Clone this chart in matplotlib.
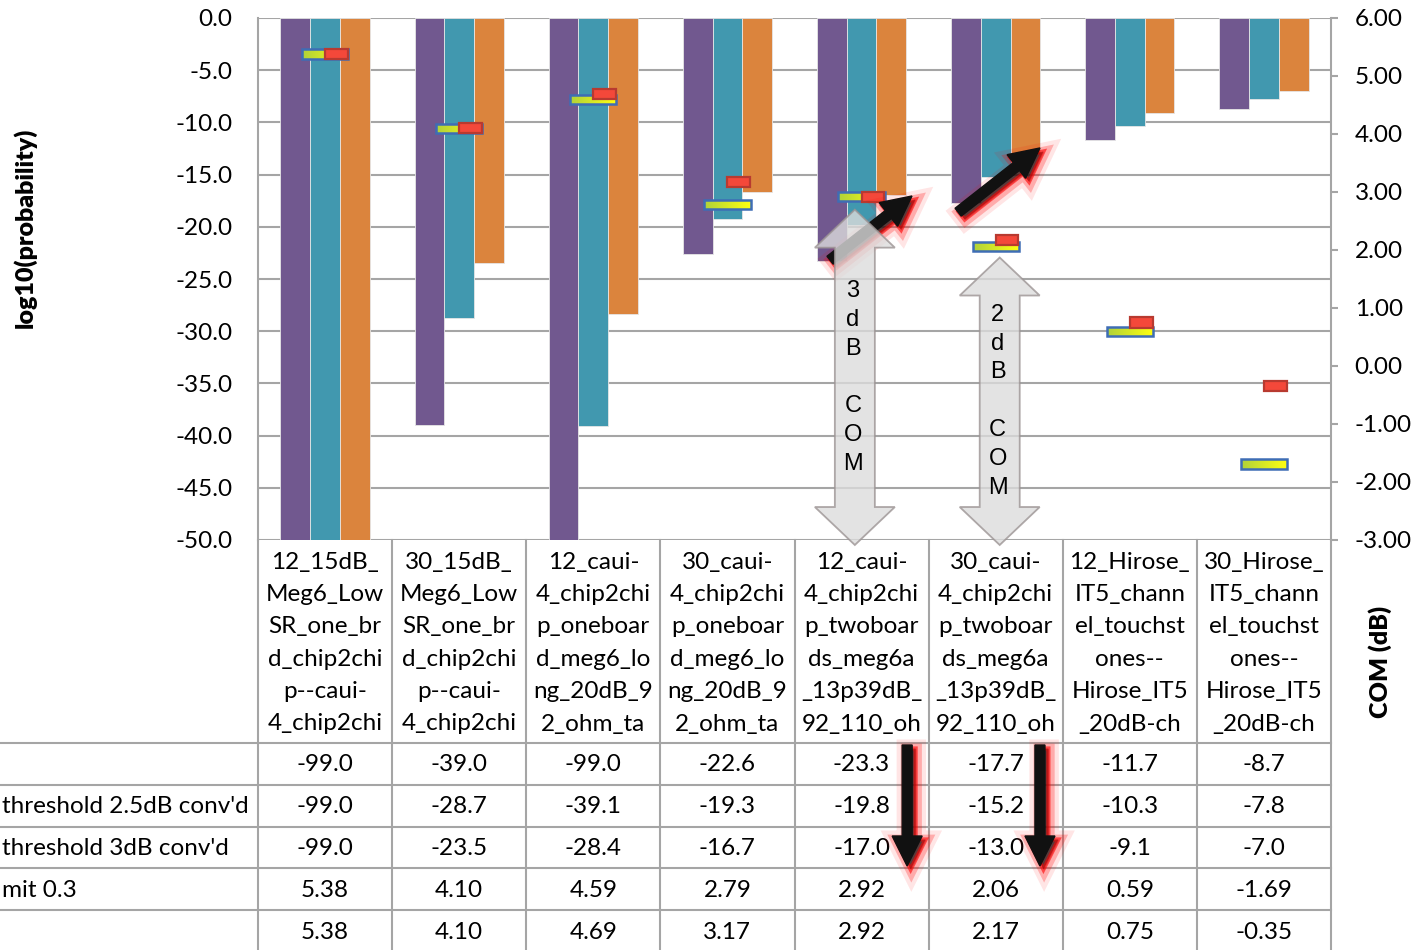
import numpy as np
import matplotlib
matplotlib.use("Agg")
import matplotlib.pyplot as plt
import matplotlib.patheffects as pe
from matplotlib.patches import Polygon
from matplotlib.colors import LinearSegmentedColormap

plt.rcParams['font.family'] = ['Lato', 'DejaVu Sans']

# category names as they appear (wrapped / cut) in the data table header
categories = [
    "12_15dB_\nMeg6_Low\nSR_one_br\nd_chip2chi\np--caui-\n4_chip2chi",
    "30_15dB_\nMeg6_Low\nSR_one_br\nd_chip2chi\np--caui-\n4_chip2chi",
    "12_caui-\n4_chip2chi\np_oneboar\nd_meg6_lo\nng_20dB_9\n2_ohm_ta",
    "30_caui-\n4_chip2chi\np_oneboar\nd_meg6_lo\nng_20dB_9\n2_ohm_ta",
    "12_caui-\n4_chip2chi\np_twoboar\nds_meg6a\n_13p39dB_\n92_110_oh",
    "30_caui-\n4_chip2chi\np_twoboar\nds_meg6a\n_13p39dB_\n92_110_oh",
    "12_Hirose_\nIT5_chann\nel_touchst\nones--\nHirose_IT5\n_20dB-ch",
    "30_Hirose_\nIT5_chann\nel_touchst\nones--\nHirose_IT5\n_20dB-ch",
]
row_labels = ["", "threshold 2.5dB conv'd", "threshold 3dB conv'd", "mit 0.3", ""]

# log10(probability), left axis
prob_base = [-99.0, -39.0, -99.0, -22.6, -23.3, -17.7, -11.7, -8.7]
prob_25 = [-99.0, -28.7, -39.1, -19.3, -19.8, -15.2, -10.3, -7.8]
prob_3 = [-99.0, -23.5, -28.4, -16.7, -17.0, -13.0, -9.1, -7.0]
# COM (dB), right axis
com_mit = [5.38, 4.10, 4.59, 2.79, 2.92, 2.06, 0.59, -1.69]
com_other = [5.38, 4.10, 4.69, 3.17, 2.92, 2.17, 0.75, -0.35]

W, H = 1426, 950
L, R, T, B = 258, 1331, 18, 540
FS = 17.5
GRID = '#A5A5A5'

fig = plt.figure(figsize=(W / 100, H / 100), dpi=100)
ax = fig.add_axes([L / W, 1 - B / H, (R - L) / W, (B - T) / H])

n = len(categories)
x = np.arange(n)
bw = 0.222
series = [(prob_base, '#71588F'), (prob_25, '#4198AF'), (prob_3, '#DB843D')]
for k, (vals, col) in enumerate(series):
    ax.bar(x + (k - 1) * bw, vals, bw, color=col, edgecolor='#E6E6E6',
           linewidth=0.6, zorder=2)

ax.set_xlim(-0.5, n - 0.5)
ax.set_ylim(-50, 0)
yt = np.arange(-50, 0.1, 5)
ax.set_yticks(yt)
ax.set_yticklabels([f"{v:.1f}" for v in yt])
ax.tick_params(axis='y', length=0, pad=18.5, labelsize=FS)
ax.tick_params(axis='x', bottom=False, labelbottom=False)
ax.yaxis.grid(True, color=GRID, linewidth=1.5)
ax.set_axisbelow(True)
for s in ['top', 'bottom', 'right']:
    ax.spines[s].set_visible(False)
ax.spines['left'].set_color(GRID)
ax.spines['left'].set_linewidth(1.5)

ax2 = ax.twinx()
ax2.set_ylim(-3, 6)
yt2 = np.arange(-3, 6.1, 1)
ax2.set_yticks(yt2)
ax2.set_yticklabels([f"{v:.2f}" for v in yt2])
ax2.tick_params(axis='y', length=5, width=1.5, color=GRID, pad=12, labelsize=FS)
for s in ['top', 'bottom', 'left']:
    ax2.spines[s].set_visible(False)
ax2.spines['right'].set_color(GRID)
ax2.spines['right'].set_linewidth(1.5)

# COM markers
yh = 0.16
ybars = ax2.bar(x, yh, bottom=np.array(com_mit) - yh / 2, width=0.345,
                facecolor='none', edgecolor='#3E6DB5', linewidth=1.8, zorder=5)
cmap_y = LinearSegmentedColormap.from_list('yg', ['#B0D23A', '#FFFF10'])
grad = np.linspace(0, 1, 64).reshape(1, -1)
for p in ybars:
    x0, y0 = p.get_xy()
    im = ax2.imshow(grad, extent=[x0, x0 + p.get_width(), y0, y0 + p.get_height()],
                    aspect='auto', cmap=cmap_y, zorder=4, interpolation='bilinear')
    im.set_clip_path(p)
rh = 0.175
ax2.bar(x + 0.085, rh, bottom=np.array(com_other) - rh / 2, width=0.17,
        color='#F4483A', edgecolor='#B83A30', linewidth=1.6, zorder=6)
ax2.set_xlim(-0.5, n - 0.5)
ax2.set_ylim(-3, 6)

fig.text(25 / W, 1 - 228 / H, "log10(probability)", rotation=90, ha='center',
         va='center', fontsize=18, fontweight='heavy')
fig.text(1380 / W, 1 - 662 / H, "COM (dB)", rotation=90, ha='center',
         va='center', fontsize=18, fontweight='heavy')

# overlay in pixel coordinates for the table and drawn shapes
ov = fig.add_axes([0, 0, 1, 1], zorder=10)
ov.set_xlim(0, W)
ov.set_ylim(H, 0)
ov.axis('off')


def to_px(axis, xv, yv):
    dx, dy = axis.transData.transform((xv, yv))
    return dx, H - dy


# data table
col_x = [to_px(ax, i - 0.5, 0)[0] for i in range(n + 1)]
head_bottom = 743
row_h = 41.8
table_rows = [prob_base, prob_25, prob_3, com_mit, com_other]
fmts = ["{:.1f}"] * 3 + ["{:.2f}"] * 2
for cx in col_x:
    ov.plot([cx, cx], [B, H], color=GRID, lw=1.5, zorder=2)
for k in range(len(table_rows) + 1):
    ry = head_bottom + k * row_h
    ov.plot([0, col_x[-1]], [ry, ry], color=GRID, lw=1.5, zorder=2)
for i, cat in enumerate(categories):
    cx = (col_x[i] + col_x[i + 1]) / 2
    for j, line in enumerate(cat.split("\n")):
        ov.text(cx, 562 + j * 32.4, line, ha='center', va='center', fontsize=FS)
    for k, vals in enumerate(table_rows):
        ov.text(cx, head_bottom + (k + 0.5) * row_h + 1, fmts[k].format(vals[i]),
                ha='center', va='center', fontsize=FS)
for k, lab in enumerate(row_labels):
    ov.text(2, head_bottom + (k + 0.5) * row_h + 1, lab, ha='left', va='center', fontsize=FS)

glow = [pe.Stroke(linewidth=14, foreground='red', alpha=0.1, offset=(3, -3)),
        pe.Stroke(linewidth=8, foreground='red', alpha=0.25, offset=(3, -3)),
        pe.Stroke(linewidth=3, foreground='red', alpha=0.6, offset=(2.5, -2.5)),
        pe.Normal()]


def black_arrow(p0, p1):
    ov.arrow(p0[0], p0[1], p1[0] - p0[0], p1[1] - p0[1], width=10, head_width=30,
             head_length=30, length_includes_head=True, color='#111111',
             zorder=6, path_effects=glow)


black_arrow(to_px(ax, 4 - 0.235, prob_base[4] + 0.1), to_px(ax, 4 + 0.376, prob_3[4] - 0.05))
black_arrow(to_px(ax, 5 - 0.28, prob_base[5] - 0.9), to_px(ax, 5 + 0.33, prob_3[5] + 0.55))
for xv in [4.34, 5.33]:
    xp = to_px(ax, xv, 0)[0]
    black_arrow((xp, 745), (xp, 866))


def double_arrow(cx, ty, by, label):
    hs, hh, hl = 20, 40, 38
    pts = [(cx, ty), (cx + hh, ty + hl), (cx + hs, ty + hl), (cx + hs, by - hl),
           (cx + hh, by - hl), (cx, by), (cx - hh, by - hl), (cx - hs, by - hl),
           (cx - hs, ty + hl), (cx - hh, ty + hl)]
    ov.add_patch(Polygon(pts, closed=True, facecolor='#DCDCDC', edgecolor='#9C9494',
                         lw=1.3, alpha=0.8, zorder=7))
    mid = (ty + by) / 2
    m = len(label)
    for k, ch in enumerate(label):
        ov.text(cx - 2, mid + (k - (m - 1) / 2) * 28.8, ch, ha='center', va='center',
                fontsize=17, family='Liberation Sans', zorder=8)


double_arrow(to_px(ax2, 4 - 0.05, 0)[0], to_px(ax2, 4, com_mit[4])[1] + 13, B + 5, "3dB COM")
double_arrow(to_px(ax2, 5 + 0.03, 0)[0], to_px(ax2, 5, com_mit[5])[1] + 11, B + 5, "2dB COM")

fig.savefig("out.png", dpi=100)
